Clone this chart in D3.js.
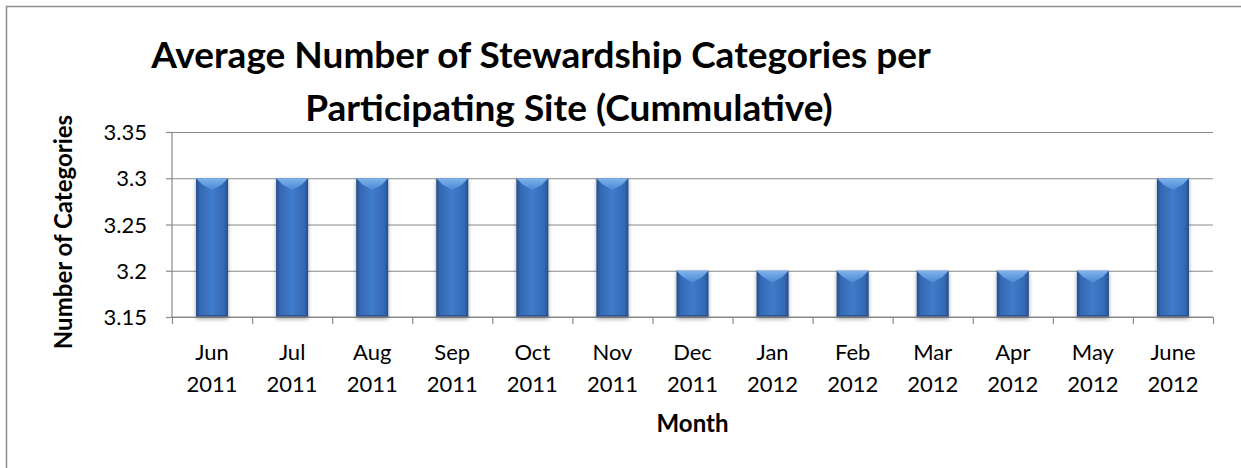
<!DOCTYPE html>
<html>
<head>
<meta charset="utf-8">
<script src="https://cdn.jsdelivr.net/npm/d3@7"></script>
<style>
  body { margin: 0; background: #fff; }
  text { font-family: Lato, "Open Sans", sans-serif; fill: #000; }
</style>
</head>
<body>
<svg width="1241" height="468"></svg>
<script>
var months = ['Jun', 'Jul', 'Aug', 'Sep', 'Oct', 'Nov', 'Dec', 'Jan', 'Feb', 'Mar', 'Apr', 'May', 'June'];
var years = ['2011', '2011', '2011', '2011', '2011', '2011', '2011', '2012', '2012', '2012', '2012', '2012', '2012'];
var values = [3.3, 3.3, 3.3, 3.3, 3.3, 3.3, 3.2, 3.2, 3.2, 3.2, 3.2, 3.2, 3.3];
var yTicks = [3.15, 3.2, 3.25, 3.3, 3.35];

var svg = d3.select('svg');
var plotL = 172, plotR = 1213, plotT = 132, plotB = 317;

// outer chart border (runs off the right and bottom of the picture)
svg.append('rect')
    .attr('x', 6.5).attr('y', 6.5)
    .attr('width', 1260).attr('height', 480)
    .attr('fill', 'none').attr('stroke', '#8e8e8e').attr('stroke-width', 1.5);

var x = d3.scaleBand().domain(d3.range(months.length)).range([plotL, plotR]).paddingInner(0.6).paddingOuter(0.3);
var y = d3.scaleLinear().domain([3.15, 3.35]).range([plotB, plotT]);

var defs = svg.append('defs');
var g1 = defs.append('linearGradient').attr('id', 'barfill');
g1.append('stop').attr('offset', '0%').attr('stop-color', '#234d88');
g1.append('stop').attr('offset', '12%').attr('stop-color', '#3468b2');
g1.append('stop').attr('offset', '50%').attr('stop-color', '#3f7ccb');
g1.append('stop').attr('offset', '88%').attr('stop-color', '#3468b2');
g1.append('stop').attr('offset', '100%').attr('stop-color', '#234d88');
var g2 = defs.append('linearGradient').attr('id', 'bevel').attr('x1', 0).attr('y1', 0).attr('x2', 0).attr('y2', 1);
g2.append('stop').attr('offset', '0%').attr('stop-color', '#7fb3ec');
g2.append('stop').attr('offset', '100%').attr('stop-color', '#4a86d3');
var sh = defs.append('filter').attr('id', 'shadow').attr('x', '-30%').attr('y', '-10%').attr('width', '160%').attr('height', '130%');
sh.append('feGaussianBlur').attr('in', 'SourceAlpha').attr('stdDeviation', 2);
sh.append('feOffset').attr('dx', 0).attr('dy', 2).attr('result', 'b');
sh.append('feComponentTransfer').append('feFuncA').attr('type', 'linear').attr('slope', 0.35);
var mg = sh.append('feMerge');
mg.append('feMergeNode');
mg.append('feMergeNode').attr('in', 'SourceGraphic');

// gridlines
svg.append('g')
    .attr('transform', 'translate(' + plotL + ',0)')
    .call(d3.axisLeft(y).tickValues(yTicks).tickSize(-(plotR - plotL)).tickFormat(''))
    .call(function (g) {
        g.select('.domain').remove();
        g.selectAll('line').attr('stroke', '#8a8a8a').attr('stroke-width', 1.2);
    });

// bars
var bars = svg.append('g').selectAll('g').data(values).enter().append('g')
    .attr('filter', 'url(#shadow)');
bars.append('rect')
    .attr('x', function (d, i) { return x(i); })
    .attr('y', function (d) { return y(d); })
    .attr('width', x.bandwidth())
    .attr('height', function (d) { return y(3.15) - y(d); })
    .attr('fill', 'url(#barfill)');
bars.append('path')
    .attr('fill', 'url(#bevel)')
    .attr('d', function (d, i) {
        var x0 = x(i), w = x.bandwidth(), y0 = y(d);
        return 'M' + x0 + ',' + y0 + 'L' + (x0 + w) + ',' + y0 +
            'L' + (x0 + w - 6) + ',' + (y0 + 6) + 'L' + (x0 + w / 2) + ',' + (y0 + 12) +
            'L' + (x0 + 6) + ',' + (y0 + 6) + 'Z';
    });
bars.append('rect')
    .attr('x', function (d, i) { return x(i); })
    .attr('y', y(3.15) - 2)
    .attr('width', x.bandwidth())
    .attr('height', 2)
    .attr('fill', '#2a5590');

// y axis
var ya = svg.append('g')
    .attr('transform', 'translate(' + plotL + ',0)')
    .call(d3.axisLeft(y).tickValues(yTicks).tickSize(6).tickPadding(19).tickFormat(d3.format('')));
ya.select('.domain').attr('stroke', '#8a8a8a').attr('stroke-width', 1.2).attr('d', 'M0,' + plotT + 'V' + plotB);
ya.selectAll('line').attr('stroke', '#8a8a8a').attr('stroke-width', 1.2);
ya.selectAll('text').style('font-family', 'Lato').style('font-size', '22px').attr('dy', '0.35em').attr('fill', '#000');

// x axis with ticks at category boundaries
var xb = d3.scaleLinear().domain([0, months.length]).range([plotL, plotR]);
var xa = svg.append('g')
    .attr('transform', 'translate(0,' + plotB + ')')
    .call(d3.axisBottom(xb).tickValues(d3.range(months.length + 1)).tickSize(7).tickFormat(''));
xa.select('.domain').attr('stroke', '#8a8a8a').attr('stroke-width', 1.2).attr('d', 'M' + plotL + ',0H' + plotR);
xa.selectAll('line').attr('stroke', '#8a8a8a').attr('stroke-width', 1.2);

var lab = svg.append('g').selectAll('text').data(months).enter().append('text')
    .attr('text-anchor', 'middle')
    .style('font-size', '22px')
    .attr('x', function (d, i) { return x(i) + x.bandwidth() / 2; })
    .attr('y', 360);
lab.append('tspan').text(function (d) { return d; });
lab.append('tspan')
    .attr('x', function (d, i) { return x(i) + x.bandwidth() / 2; })
    .attr('dy', 32)
    .text(function (d, i) { return years[i]; });

// axis titles
svg.append('text')
    .attr('x', (plotL + plotR) / 2).attr('y', 432)
    .attr('text-anchor', 'middle')
    .style('font-size', '24px').style('font-weight', 'bold')
    .text('Month');
svg.append('text')
    .attr('transform', 'translate(72,232) rotate(-90)')
    .attr('text-anchor', 'middle')
    .style('font-size', '24px').style('font-weight', 'bold')
    .text('Number of Categories');

// chart title
var titleLines = ['Average Number of Stewardship Categories per', 'Participating Site (Cummulative)'];
var titleX = [541, 569];
svg.append('g').selectAll('text').data(titleLines).enter().append('text')
    .attr('x', function (d, i) { return titleX[i]; })
    .attr('y', function (d, i) { return 68 + i * 53; })
    .attr('text-anchor', 'middle')
    .style('font-size', '37px').style('font-weight', 'bold')
    .text(function (d) { return d; });
</script>
</body>
</html>
